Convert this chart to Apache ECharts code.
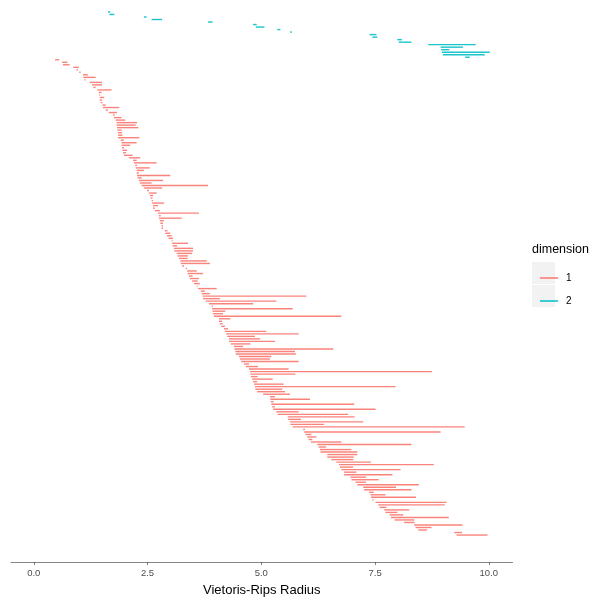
<!DOCTYPE html>
<html>
<head>
<meta charset="utf-8">
<script src="https://cdn.jsdelivr.net/npm/echarts@6/dist/echarts.min.js"></script>
<style>
  html, body { margin: 0; padding: 0; background: #ffffff; }
  #chart { width: 594px; height: 602px; }
</style>
</head>
<body>
<div id="chart"></div>
<script>
// Persistence barcode: one horizontal segment per feature, birth -> death radius.
const dim2Birth = [1.63, 1.66, 2.42, 2.59, 3.83, 4.82, 4.88, 5.35, 5.63, 7.38, 7.44, 7.99, 8.02, 8.67, 8.94, 8.95, 8.97, 8.99, 9.48];
const dim2Death = [1.68, 1.77, 2.48, 2.82, 3.93, 4.90, 5.07, 5.42, 5.67, 7.53, 7.55, 8.09, 8.30, 9.71, 9.43, 9.13, 10.02, 9.91, 9.58];

const dim1Birth = [
  0.47, 0.62, 0.64, 0.87, 0.94, 1.00, 1.08, 1.09, 1.11, 1.23,
  1.28, 1.31, 1.40, 1.43, 1.44, 1.45, 1.45, 1.47, 1.51, 1.52,
  1.58, 1.65, 1.74, 1.76, 1.80, 1.82, 1.82, 1.83, 1.84, 1.85,
  1.85, 1.85, 1.91, 1.93, 1.93, 1.94, 1.95, 1.96, 1.98, 2.09,
  2.18, 2.20, 2.23, 2.24, 2.26, 2.26, 2.27, 2.28, 2.31, 2.33,
  2.37, 2.42, 2.49, 2.53, 2.55, 2.57, 2.59, 2.60, 2.62, 2.62,
  2.66, 2.73, 2.75, 2.75, 2.77, 2.78, 2.81, 2.81, 2.88, 2.89,
  2.93, 2.96, 3.03, 3.04, 3.05, 3.08, 3.09, 3.14, 3.16, 3.19,
  3.22, 3.23, 3.26, 3.34, 3.37, 3.38, 3.41, 3.43, 3.48, 3.52,
  3.58, 3.61, 3.67, 3.69, 3.71, 3.72, 3.78, 3.85, 3.91, 3.92,
  3.93, 3.94, 3.96, 4.07, 4.07, 4.09, 4.12, 4.18, 4.20, 4.23,
  4.25, 4.29, 4.29, 4.33, 4.40, 4.41, 4.43, 4.44, 4.51, 4.53,
  4.56, 4.62, 4.66, 4.73, 4.75, 4.76, 4.77, 4.80, 4.82, 4.84,
  4.86, 4.87, 4.91, 5.04, 5.19, 5.20, 5.21, 5.22, 5.24, 5.26,
  5.33, 5.36, 5.58, 5.59, 5.63, 5.64, 5.69, 5.92, 5.94, 5.97,
  6.01, 6.04, 6.09, 6.23, 6.26, 6.29, 6.30, 6.45, 6.45, 6.54,
  6.65, 6.71, 6.73, 6.76, 6.82, 6.82, 6.96, 6.98, 7.07, 7.11,
  7.24, 7.26, 7.37, 7.40, 7.41, 7.44, 7.51, 7.57, 7.60, 7.70,
  7.73, 7.82, 7.85, 7.93, 8.14, 8.36, 8.39, 8.45, 9.24, 9.29
];
const dim1Death = [
  0.56, 0.74, 0.79, 0.99, 0.97, 1.03, 1.19, 1.36, 1.14, 1.50,
  1.50, 1.36, 1.71, 1.49, 1.46, 1.55, 1.50, 1.51, 1.58, 1.88,
  1.63, 1.83, 1.78, 1.93, 2.01, 2.27, 2.24, 2.30, 1.93, 1.94,
  1.95, 2.32, 1.98, 2.26, 2.12, 1.98, 2.05, 2.03, 2.17, 2.34,
  2.26, 2.70, 2.27, 2.55, 2.42, 2.31, 3.00, 2.37, 2.84, 2.59,
  3.83, 2.82, 2.53, 2.70, 2.62, 2.61, 2.62, 2.86, 2.73, 2.66,
  2.77, 3.63, 2.79, 3.25, 2.86, 2.84, 2.84, 2.84, 2.94, 3.00,
  3.03, 3.06, 3.05, 3.39, 3.15, 3.50, 3.50, 3.48, 3.39, 3.38,
  3.80, 3.87, 3.30, 3.37, 3.58, 3.72, 3.49, 3.63, 3.60, 3.65,
  3.60, 4.02, 3.76, 3.87, 5.99, 4.09, 5.33, 4.82, 3.94, 5.69,
  4.21, 4.16, 6.76, 4.32, 4.14, 4.15, 4.20, 4.27, 5.11, 5.82,
  4.86, 4.97, 5.30, 4.76, 4.60, 6.58, 5.74, 5.76, 5.22, 5.19,
  5.82, 4.73, 4.93, 5.60, 8.75, 5.75, 4.92, 5.25, 4.91, 5.49,
  7.95, 5.46, 5.52, 5.63, 5.30, 6.07, 5.27, 7.04, 5.30, 7.51,
  5.82, 6.91, 7.05, 5.87, 7.24, 6.38, 9.47, 5.96, 8.94, 6.10,
  6.21, 6.12, 6.76, 8.30, 6.42, 6.98, 7.11, 7.11, 7.03, 7.02,
  7.41, 8.79, 7.02, 8.06, 7.09, 7.88, 7.30, 7.58, 7.30, 8.46,
  7.96, 8.30, 7.47, 7.73, 8.40, 7.47, 9.07, 9.03, 7.75, 8.25,
  7.99, 8.12, 9.12, 8.36, 8.37, 9.42, 8.74, 8.64, 9.41, 9.97
];

const xTicks = [0, 2.5, 5, 7.5, 10];
const dimensionNames = ['1', '2'];
const dimensionColors = ['#F8766D', '#00BFC4'];

// Rows run top to bottom: dimension 2 features first, then dimension 1.
const rowsDim2 = dim2Birth.map((b, i) => [b, dim2Death[i], i]);
const rowsDim1 = dim1Birth.map((b, i) => [b, dim1Death[i], dim2Birth.length + i]);
const nRows = dim2Birth.length + dim1Birth.length;

function segment(color) {
  return function (params, api) {
    const row = api.value(2);
    const a = api.coord([api.value(0), row]);
    const b = api.coord([api.value(1), row]);
    return {
      type: 'line',
      shape: { x1: a[0], y1: a[1], x2: b[0], y2: b[1] },
      style: { stroke: color, lineWidth: 1.4, opacity: 0.9 }
    };
  };
}

const chart = echarts.init(document.getElementById('chart'), null, { renderer: 'canvas' });
chart.setOption({
  animation: false,
  backgroundColor: '#ffffff',
  grid: { left: 11, right: 81.5, top: 0, bottom: 39, containLabel: false },
  xAxis: {
    type: 'value',
    min: -0.5,
    max: 10.52,
    splitLine: { show: false },
    axisLine: { show: true, onZero: false, lineStyle: { color: '#333333', width: 0.6 } },
    axisTick: { show: true, length: 3, customValues: xTicks, lineStyle: { color: '#333333', width: 0.6 } },
    axisLabel: {
      customValues: xTicks,
      formatter: v => v.toFixed(1),
      color: '#4D4D4D',
      fontFamily: 'Liberation Sans, Arial, sans-serif',
      fontSize: 9.5,
      margin: 6
    },
    name: 'Vietoris-Rips Radius',
    nameLocation: 'middle',
    nameGap: 22,
    nameTextStyle: { color: '#000000', fontFamily: 'Liberation Sans, Arial, sans-serif', fontSize: 13 }
  },
  yAxis: {
    type: 'value',
    inverse: true,
    min: -4.76,
    max: nRows - 1 + 10.72,
    show: false
  },
  legend: {
    orient: 'vertical',
    left: 535,
    top: 266,
    itemWidth: 18,
    itemHeight: 1.5,
    itemGap: 9,
    icon: 'rect',
    selectedMode: false,
    textStyle: { color: '#000000', fontFamily: 'Liberation Sans, Arial, sans-serif', fontSize: 10, lineHeight: 14, padding: [0, 0, 0, 3] },
    data: dimensionNames
  },
  graphic: [
    { type: 'text', left: 532, top: 243, style: { text: 'dimension', fill: '#000000', font: '12.5px Liberation Sans, Arial, sans-serif' } },
    { type: 'rect', left: 532, top: 262, shape: { width: 23, height: 22 }, style: { fill: '#F2F2F2' }, z: -1 },
    { type: 'rect', left: 532, top: 285, shape: { width: 23, height: 22 }, style: { fill: '#F2F2F2' }, z: -1 }
  ],
  series: [
    {
      name: dimensionNames[0],
      type: 'custom',
      color: dimensionColors[0],
      renderItem: segment(dimensionColors[0]),
      encode: { x: [0, 1], y: 2 },
      data: rowsDim1
    },
    {
      name: dimensionNames[1],
      type: 'custom',
      color: dimensionColors[1],
      renderItem: segment(dimensionColors[1]),
      encode: { x: [0, 1], y: 2 },
      data: rowsDim2
    }
  ]
});
</script>
</body>
</html>
